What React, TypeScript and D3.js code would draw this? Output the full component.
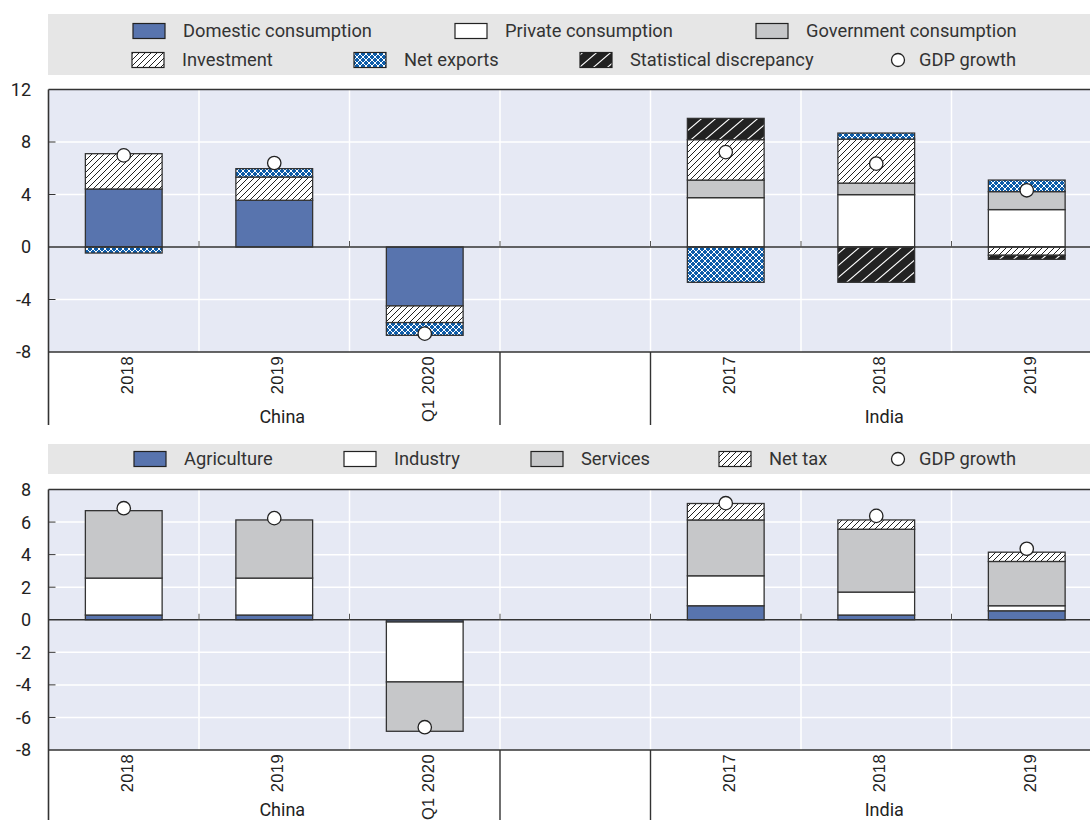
import React from 'react';
import * as d3 from 'd3';

// ---------- DATA ----------
const categories = ["2018", "2019", "Q1 2020", "", "2017", "2018", "2019"];
const groupNames = ["China", "India"];
const groupRanges = [[0, 2], [4, 6]];

const topTicks = [-8, -4, 0, 4, 8, 12];
const bottomTicks = [-8, -6, -4, -2, 0, 2, 4, 6, 8];

// Top panel: demand side contributions
const domestic = [4.42, 3.56, -4.49, 0, 0, 0, 0];
const privateCons = [0, 0, 0, 0, 3.76, 3.99, 2.85];
const government = [0, 0, 0, 0, 1.34, 0.88, 1.37];
const investment = [2.69, 1.77, -1.27, 0, 3.08, 3.35, -0.63];
const netExports = [-0.46, 0.64, -0.97, 0, -2.69, 0.46, 0.88];
const statDiscrepancy = [0, 0, 0, 0, 1.62, -2.69, -0.31];
const gdpTop = [6.98, 6.4, -6.6, null, 7.23, 6.35, 4.32];

// Bottom panel: supply side contributions
const agriculture = [0.29, 0.29, -0.14, 0, 0.86, 0.29, 0.55];
const industry = [2.27, 2.27, -3.68, 0, 1.84, 1.41, 0.31];
const services = [4.14, 3.57, -3.03, 0, 3.43, 3.86, 2.72];
const netTax = [0, 0, 0, 0, 1.01, 0.57, 0.57];
const gdpBottom = [6.85, 6.24, -6.6, null, 7.16, 6.38, 4.36];

const topSeries = [
  { key: "Domestic consumption", values: domestic, fill: "#5874ae" },
  { key: "Private consumption", values: privateCons, fill: "#ffffff" },
  { key: "Government consumption", values: government, fill: "#c6c7c9" },
  { key: "Investment", values: investment, fill: "url(#hatch)" },
  { key: "Net exports", values: netExports, fill: "url(#net)" },
  { key: "Statistical discrepancy", values: statDiscrepancy, fill: "url(#stat)" },
];
const bottomSeries = [
  { key: "Agriculture", values: agriculture, fill: "#5874ae" },
  { key: "Industry", values: industry, fill: "#ffffff" },
  { key: "Services", values: services, fill: "#c6c7c9" },
  { key: "Net tax", values: netTax, fill: "url(#hatch)" },
];

const FONT = "Roboto, 'Liberation Sans', sans-serif";
const TICKFONT = "'Liberation Sans', Arial, sans-serif";
const INK = "#222";

const x = d3.scaleBand<number>()
  .domain(d3.range(categories.length))
  .range([48.5, 48.5 + 150.5 * categories.length])
  .padding(0);

type Series = { key: string; values: number[]; fill: string };

function Legend({ items, y0, y1, rows }: { items: { key: string; fill: string | null; sx: number; row: number }[]; y0: number; y1: number; rows: number[] }) {
  return (
    <g>
      <rect x={48} y={y0} width={1090 - 48} height={y1 - y0} fill="#e6e6e6" />
      {items.map((it, i) => {
        const cy = rows[it.row];
        if (it.fill === null) {
          return (
            <g key={i}>
              <circle cx={it.sx} cy={cy} r={6.5} fill="#fff" stroke={INK} strokeWidth={1.3} />
              <text x={it.sx + 21} y={cy} dy="0.35em" fontFamily={FONT} fontSize={18.3} fill="#333">{it.key}</text>
            </g>
          );
        }
        return (
          <g key={i}>
            <rect x={it.sx} y={cy - 7.5} width={32} height={15} fill={it.fill} stroke={INK} strokeWidth={1.2} />
            <text x={it.sx + 50} y={cy} dy="0.35em" fontFamily={FONT} fontSize={18.3} fill="#333">{it.key}</text>
          </g>
        );
      })}
    </g>
  );
}

function Panel({ series, gdp, ticks, domain, top, bottom, axisBottom, labelTop, groupY }: {
  series: Series[]; gdp: (number | null)[]; ticks: number[]; domain: [number, number];
  top: number; bottom: number; axisBottom: number; labelTop: number; groupY: number;
}) {
  const y = d3.scaleLinear().domain(domain).range([bottom, top]);
  const rows = categories.map((_, i) => {
    const r: Record<string, number> = {};
    series.forEach(s => { r[s.key] = s.values[i]; });
    return r;
  });
  const stacked = d3.stack<Record<string, number>>()
    .keys(series.map(s => s.key))
    .offset(d3.stackOffsetDiverging)(rows);
  const bw = x.bandwidth();
  const barW = bw * 0.51;
  const left = x.range()[0];
  const right = 1090;
  const boundaries = d3.range(1, categories.length).map(i => x(i) as number);
  const y0 = y(0);
  return (
    <g>
      <rect x={left} y={top} width={right - left} height={bottom - top} fill="#e6e9f4" />
      {ticks.filter(t => t !== domain[0] && t !== domain[1] && t !== 0).map(t => (
        <line key={"h" + t} x1={left} x2={right} y1={y(t)} y2={y(t)} stroke="#fff" strokeWidth={1.5} />
      ))}
      {boundaries.map((b, i) => (
        <line key={"v" + i} x1={b} x2={b} y1={top} y2={bottom} stroke="#fff" strokeWidth={1.5} />
      ))}
      {stacked.map((layer, li) => (
        <g key={layer.key}>
          {layer.map((d, i) => {
            if (Math.abs(d[1] - d[0]) < 1e-9) return null;
            const cx = (x(i) as number) + bw / 2;
            const ya = y(Math.max(d[0], d[1]));
            const yb = y(Math.min(d[0], d[1]));
            return (
              <rect key={i} x={cx - barW / 2} y={ya} width={barW} height={yb - ya}
                fill={series[li].fill} stroke="#333" strokeWidth={1.3} />
            );
          })}
        </g>
      ))}
      <line x1={left} x2={right} y1={y0} y2={y0} stroke="#333" strokeWidth={1.6} />
      {boundaries.map((b, i) => (
        <line key={"zt" + i} x1={b} x2={b} y1={y0 - 6} y2={y0} stroke="#555" strokeWidth={1} />
      ))}
      <line x1={left} x2={right} y1={top} y2={top} stroke="#333" strokeWidth={1.6} />
      <line x1={left} x2={right} y1={bottom} y2={bottom} stroke="#333" strokeWidth={1.6} />
      <line x1={left} x2={left} y1={top} y2={axisBottom} stroke="#333" strokeWidth={1.6} />
      {ticks.map(t => (
        <g key={"t" + t}>
          {t !== domain[0] && t !== domain[1] && t !== 0 ? (
            <line x1={left} x2={left + 7} y1={y(t)} y2={y(t)} stroke="#333" strokeWidth={1} />
          ) : null}
          <text x={31} y={y(t)} dy="0.36em" textAnchor="end" fontFamily={FONT} fontSize={18} fill={INK}>{t}</text>
        </g>
      ))}
      {gdp.map((g, i) => g === null ? null : (
        <circle key={"g" + i} cx={(x(i) as number) + bw / 2} cy={y(g)} r={6.7} fill="#fff" stroke={INK} strokeWidth={1.3} />
      ))}
      {/* category axis */}
      {[3, 4].map(i => (
        <line key={"d" + i} x1={x(i) as number} x2={x(i) as number} y1={bottom} y2={axisBottom} stroke="#333" strokeWidth={1.4} />
      ))}
      {categories.map((c, i) => c === "" ? null : (
        <text key={"c" + i} transform={`translate(${(x(i) as number) + bw / 2 + 3},${labelTop}) rotate(-90)`}
          textAnchor="end" dy="0.35em" fontFamily={TICKFONT} fontSize={16.5} letterSpacing={0.4} fill={INK}>{c}</text>
      ))}
      {groupNames.map((g, gi) => {
        const [a, b] = groupRanges[gi];
        const cx = ((x(a) as number) + (x(b) as number) + bw) / 2 + 8;
        return <text key={g} x={cx} y={groupY} dy="0.35em" textAnchor="middle" fontFamily={FONT} fontSize={18} fill={INK}>{g}</text>;
      })}
    </g>
  );
}

export default function App() {
  const topLegend = [
    { key: topSeries[0].key, fill: topSeries[0].fill, sx: 133, row: 0 },
    { key: topSeries[1].key, fill: topSeries[1].fill, sx: 455, row: 0 },
    { key: topSeries[2].key, fill: topSeries[2].fill, sx: 756, row: 0 },
    { key: topSeries[3].key, fill: topSeries[3].fill, sx: 132, row: 1 },
    { key: topSeries[4].key, fill: topSeries[4].fill, sx: 354, row: 1 },
    { key: topSeries[5].key, fill: topSeries[5].fill, sx: 580, row: 1 },
    { key: "GDP growth", fill: null, sx: 898, row: 1 },
  ];
  const bottomLegend = [
    { key: bottomSeries[0].key, fill: bottomSeries[0].fill, sx: 134, row: 0 },
    { key: bottomSeries[1].key, fill: bottomSeries[1].fill, sx: 344, row: 0 },
    { key: bottomSeries[2].key, fill: bottomSeries[2].fill, sx: 531, row: 0 },
    { key: bottomSeries[3].key, fill: bottomSeries[3].fill, sx: 719, row: 0 },
    { key: "GDP growth", fill: null, sx: 898, row: 0 },
  ];
  return (
    <svg width={1090} height={820} style={{ position: "absolute", left: 0, top: 0, background: "#fff" }}>
      <defs>
        <pattern id="hatch" patternUnits="userSpaceOnUse" width={6} height={6}>
          <rect width={6} height={6} fill="#fff" />
          <path d="M-1,1 L1,-1 M0,6 L6,0 M5,7 L7,5" stroke="#222" strokeWidth={1} />
        </pattern>
        <pattern id="stat" patternUnits="userSpaceOnUse" width={14} height={12}>
          <rect width={14} height={12} fill="#222" />
          <path d="M-2,2 L2,-2 M0,12 L14,0 M12,14 L16,10" stroke="#fff" strokeWidth={1.1} />
        </pattern>
        <pattern id="net" patternUnits="userSpaceOnUse" width={6} height={6}>
          <rect width={6} height={6} fill="#0d5ca9" />
          <path d="M0,0 L6,6 M6,0 L0,6" stroke="#fff" strokeWidth={1} />
        </pattern>
      </defs>
      <Legend items={topLegend} y0={14} y1={75} rows={[31, 60]} />
      <Panel series={topSeries} gdp={gdpTop} ticks={topTicks} domain={[-8, 12]}
        top={89.5} bottom={352} axisBottom={425} labelTop={356} groupY={417} />
      <Legend items={bottomLegend} y0={444} y1={474} rows={[459]} />
      <Panel series={bottomSeries} gdp={gdpBottom} ticks={bottomTicks} domain={[-8, 8]}
        top={489.5} bottom={750} axisBottom={820} labelTop={754} groupY={810} />
    </svg>
  );
}
